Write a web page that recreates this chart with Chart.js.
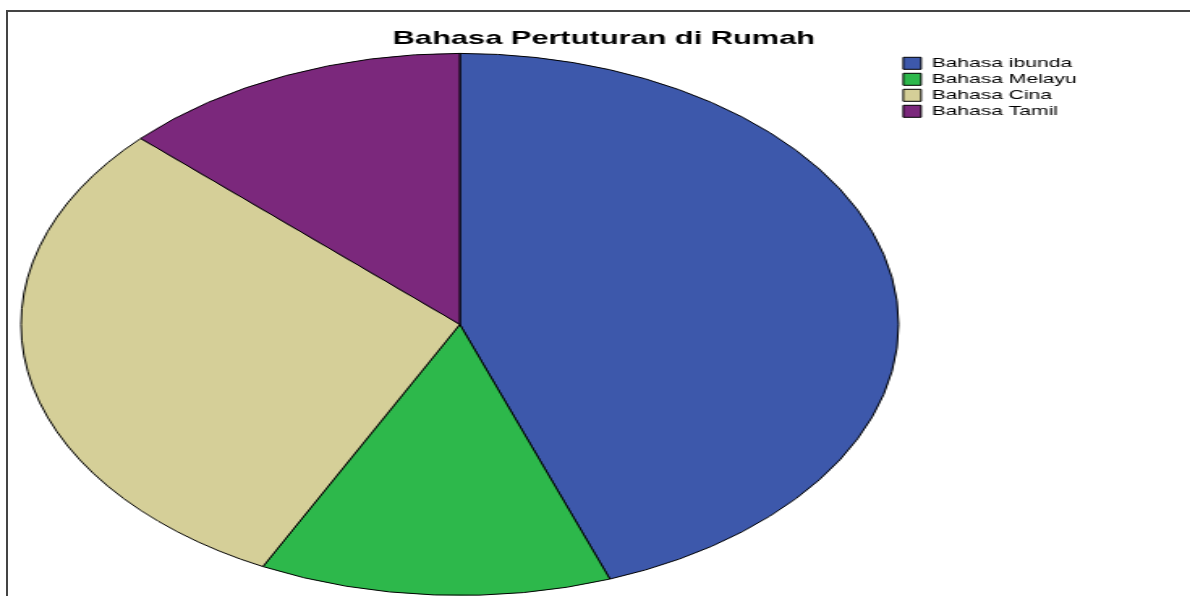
<!DOCTYPE html>
<html>
<head>
<meta charset="utf-8">
<title>Bahasa Pertuturan di Rumah</title>
<script src="https://cdn.jsdelivr.net/npm/chart.js@4/dist/chart.umd.min.js"></script>
<style>
    html, body { margin: 0; padding: 0; background: #fff; overflow: hidden; }
    #wrap { position: relative; width: 1190px; height: 596px; }
    /* the original picture is stretched sideways, so the canvas is too */
    #chart { position: absolute; left: 0; top: 0; }
    #frame {
        position: absolute; left: 6px; top: 10px; right: 0; bottom: 0;
        border-left: 2px solid #444; border-top: 2px solid #444;
        pointer-events: none;
    }
</style>
</head>
<body>
<div id="wrap">
    <canvas id="chart" width="735" height="596" style="width:1190px;height:596px"></canvas>
    <div id="frame"></div>
</div>
<script>
const chartTitle = 'Bahasa Pertuturan di Rumah';
const categories = ['Bahasa ibunda', 'Bahasa Melayu', 'Bahasa Cina', 'Bahasa Tamil'];
const counts = [24, 7, 16, 7];

const sliceColors = ['#3d58ab', '#2db84b', '#d5cf98', '#7b287c'];

// pie centre in canvas units (canvas is 735 wide, shown at 1190)
const PIE_CENTER_X = 284;

const pieShift = {
    id: 'pieShift',
    beforeDatasetsDraw(chart) {
        const area = chart.chartArea;
        chart.ctx.save();
        chart.ctx.translate(PIE_CENTER_X - (area.left + area.right) / 2, 0);
    },
    afterDatasetsDraw(chart) {
        chart.ctx.restore();
    }
};

const ctx = document.getElementById('chart').getContext('2d');
new Chart(ctx, {
    type: 'pie',
    data: {
        labels: categories,
        datasets: [{
            data: counts,
            backgroundColor: sliceColors,
            borderColor: '#000',
            borderWidth: 1,
            radius: 271
        }]
    },
    options: {
        responsive: false,
        animation: false,
        layout: {
            padding: { left: 71, right: 60, top: 0, bottom: 1 }
        },
        plugins: {
            title: {
                display: true,
                text: chartTitle,
                color: '#000',
                font: { family: 'Arial, "Liberation Sans", sans-serif', size: 19, weight: 'bold' },
                padding: { top: 27, bottom: 4 }
            },
            legend: {
                display: true,
                position: 'right',
                align: 'start',
                fullSize: false,
                labels: {
                    color: '#000',
                    font: { family: 'Arial, "Liberation Sans", sans-serif', size: 13 },
                    boxWidth: 11,
                    boxHeight: 12,
                    padding: 3
                }
            },
            tooltip: { enabled: false }
        }
    },
    plugins: [pieShift]
});
</script>
</body>
</html>
